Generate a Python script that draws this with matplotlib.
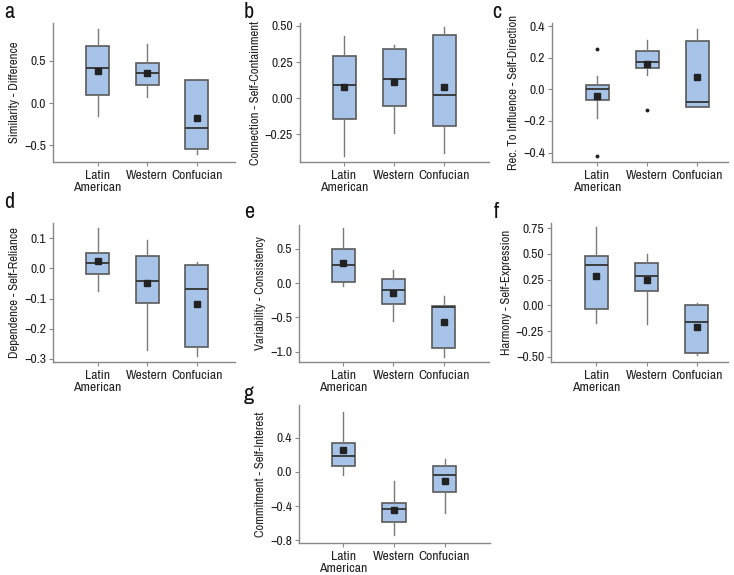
import matplotlib
matplotlib.use("Agg")
import matplotlib.pyplot as plt
from matplotlib import font_manager

# look for a narrow sans if the system has one
narrow = None
for f in font_manager.fontManager.ttflist:
    if "Narrow" in f.name or "Condensed" in f.name:
        narrow = f.name
        break
cond_files = [f for f in font_manager.fontManager.ttflist
              if f.stretch in ("condensed", "semi-condensed", "extra-condensed", 75, 87)]

if narrow:
    plt.rcParams["font.family"] = [narrow, "DejaVu Sans"]
    scale = 1.0
elif cond_files:
    plt.rcParams["font.family"] = [cond_files[0].name, "DejaVu Sans"]
    plt.rcParams["font.stretch"] = "condensed"
    scale = 1.0
else:
    plt.rcParams["font.family"] = ["Roboto", "DejaVu Sans"]
    scale = 0.86

groups = ["Latin\nAmerican", "Western", "Confucian"]

# per panel: (whislo, q1, med, q3, whishi, mean, fliers) for each group
a_stats = [(-0.15, 0.09, 0.41, 0.68, 0.88, 0.38, []),
           (0.07, 0.21, 0.36, 0.47, 0.70, 0.36, []),
           (-0.61, -0.55, -0.30, 0.27, 0.29, -0.18, [])]
b_stats = [(-0.40, -0.145, 0.09, 0.29, 0.43, 0.075, []),
           (-0.24, -0.05, 0.13, 0.34, 0.37, 0.115, []),
           (-0.38, -0.19, 0.02, 0.44, 0.49, 0.08, [])]
c_stats = [(-0.18, -0.07, 0.0, 0.025, 0.085, -0.04, [0.255, -0.42]),
           (0.09, 0.135, 0.175, 0.245, 0.315, 0.16, [-0.13]),
           (-0.11, -0.11, -0.08, 0.305, 0.385, 0.08, [])]
d_stats = [(-0.075, -0.018, 0.018, 0.052, 0.133, 0.025, []),
           (-0.27, -0.115, -0.043, 0.04, 0.095, -0.048, []),
           (-0.29, -0.26, -0.068, 0.01, 0.02, -0.118, [])]
e_stats = [(-0.04, 0.02, 0.26, 0.50, 0.80, 0.30, []),
           (-0.55, -0.31, -0.10, 0.06, 0.19, -0.14, []),
           (-1.07, -0.94, -0.34, -0.33, -0.19, -0.57, [])]
f_stats = [(-0.17, -0.04, 0.39, 0.48, 0.76, 0.29, []),
           (-0.18, 0.14, 0.29, 0.41, 0.50, 0.245, []),
           (-0.48, -0.46, -0.16, 0.005, 0.02, -0.21, [])]
g_stats = [(-0.04, 0.065, 0.18, 0.34, 0.70, 0.25, []),
           (-0.74, -0.58, -0.43, -0.36, -0.11, -0.45, []),
           (-0.48, -0.24, -0.04, 0.065, 0.15, -0.11, [])]

panels = [
    ("a", "Similarity - Difference", a_stats, [-0.5, 0.0, 0.5], "{:.1f}", (-0.70, 0.95), (0.1, 3.77), (53, 23, 235, 162)),
    ("b", "Connection - Self-Containment", b_stats, [-0.25, 0.0, 0.25, 0.5], "{:.2f}", (-0.44, 0.52), (0.12, 3.9), (300, 23, 489, 162)),
    ("c", "Rec. To Influence - Self-Direction", c_stats, [-0.4, -0.2, 0.0, 0.2, 0.4], "{:.1f}", (-0.46, 0.42), (0.1, 3.62), (552, 23, 728, 162)),
    ("d", "Dependence - Self-Reliance", d_stats, [-0.3, -0.2, -0.1, 0.0, 0.1], "{:.1f}", (-0.31, 0.15), (0.1, 3.77), (53, 223, 235, 362)),
    ("e", "Variability - Consistency", e_stats, [-1.0, -0.5, 0.0, 0.5], "{:.1f}", (-1.15, 0.85), (0.12, 3.9), (299, 225, 489, 362)),
    ("f", "Harmony - Self-Expression", f_stats, [-0.5, -0.25, 0.0, 0.25, 0.5, 0.75], "{:.2f}", (-0.55, 0.80), (0.1, 3.62), (551, 223, 728, 362)),
    ("g", "Commitment - Self-Interest", g_stats, [-0.8, -0.4, 0.0, 0.4], "{:.1f}", (-0.83, 0.78), (0.12, 3.9), (299, 405, 490, 543)),
]

W, H = 734, 575
fig = plt.figure(figsize=(W / 100, H / 100), dpi=100)

# baseline positions of the panel letters, in pixels
letter_pos = {"a": (4, 18), "b": (244, 18), "c": (492, 18), "d": (4, 208),
              "e": (244, 218), "f": (494, 218), "g": (244, 400)}

fs = 9.2 * scale

for letter, ylabel, stats, ticks, fmt, ylim, xlim, (x0, y0, x1, y1) in panels:
    ax = fig.add_axes([x0 / W, 1 - y1 / H, (x1 - x0) / W, (y1 - y0) / H])
    bstats = []
    for s in stats:
        bstats.append({"whislo": s[0], "q1": s[1], "med": s[2], "q3": s[3],
                       "whishi": s[4], "mean": s[5], "fliers": s[6]})
    ax.bxp(bstats, positions=[1, 2, 3], widths=0.46, patch_artist=True,
           showmeans=True, showcaps=False,
           boxprops=dict(facecolor="#a7c3e8", edgecolor="#5a5a5a", linewidth=1.2),
           whiskerprops=dict(color="#7a7a7a", linewidth=1.0),
           medianprops=dict(color="#333333", linewidth=1.3),
           meanprops=dict(marker="s", markerfacecolor="#222222", markeredgecolor="#222222", markersize=4.5),
           flierprops=dict(marker="o", markerfacecolor="#222222", markeredgecolor="#222222", markersize=1.8))
    ax.set_xlim(*xlim)
    ax.set_ylim(*ylim)
    ax.set_xticks([1, 2, 3])
    ax.set_xticklabels(groups, linespacing=1.05)
    ax.set_yticks(ticks)
    ax.set_yticklabels([fmt.format(t).replace("-", "\u2212") for t in ticks])
    ax.set_ylabel(ylabel, fontsize=fs, color="#222222", labelpad=3)
    for side in ["top", "right"]:
        ax.spines[side].set_visible(False)
    for side in ["left", "bottom"]:
        ax.spines[side].set_color("#888888")
        ax.spines[side].set_linewidth(1.0)
    ax.tick_params(axis="both", length=3, width=0.8, color="#888888",
                   labelsize=fs + 0.6, labelcolor="#222222", pad=2)
    ax.tick_params(axis="x", pad=3)
    lx, ly = letter_pos[letter]
    fig.text(lx / W, 1 - ly / H, letter, fontsize=16, va="baseline", ha="left", color="#111111")

fig.savefig("out.png", dpi=100)
